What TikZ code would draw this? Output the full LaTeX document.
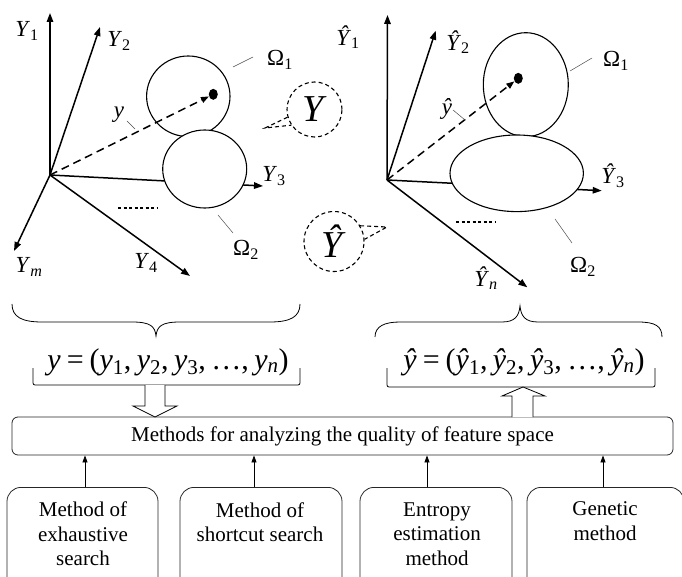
\documentclass[tikz,border=0pt]{standalone}
\usepackage{fontspec}
\setmainfont{Liberation Serif}
\usetikzlibrary{arrows.meta,shapes.geometric}
\newcommand\iv[1]{\textit{#1}}
\newcommand\hv[1]{\textit{\^{#1}}}
\newcommand\cs{,\hspace{0.18em}}
\newcommand\eqs{\hspace{0.2em}=\hspace{0.2em}}
\begin{document}
\begin{tikzpicture}[x=1pt,y=-1pt,
  axis/.style={line width=1.5pt,-{Triangle[length=9pt,width=6.5pt]}},
  vec/.style={line width=1.5pt,dash pattern=on 8pt off 5pt,-{Triangle[length=8pt,width=6pt]}},
  region/.style={draw,ellipse,line width=1.1pt,fill=white,inner sep=0pt},
  dotn/.style={fill,ellipse,inner sep=0pt,minimum width=9pt,minimum height=11pt},
  leader/.style={line width=0.5pt,draw=black!70},
  lbl/.style={font=\fontsize{23}{27}\selectfont,inner sep=0pt},
  bubble/.style={draw,circle,line width=1.1pt,dash pattern=on 4pt off 3pt,inner sep=0pt},
  bubtail/.style={line width=1.1pt,dash pattern=on 4pt off 3pt},
  brace/.style={line width=0.8pt},
  hollow/.style={draw,line width=0.8pt,fill=white},
  box/.style={draw=black!85,line width=0.8pt,rounded corners=14pt,inner sep=0pt},
  btxt/.style={align=center,font=\fontsize{21}{24.5}\selectfont,inner sep=0pt},
  small/.style={line width=0.8pt,-{Triangle[length=7pt,width=5pt]}},
  formula/.style={font=\fontsize{30}{34}\selectfont,inner sep=0pt}
]
\useasboundingbox (0,0) rectangle (682,577);
\clip (0,0) rectangle (682,577);

% ---------------- left feature space ----------------
\coordinate (O) at (50,175);
\coordinate (aY1) at (50,13);
\coordinate (aY2) at (100,27);
\coordinate (aY3) at (263,186);
\coordinate (aYm) at (14,251);
\coordinate (aY4) at (190,276);
\draw[axis] (O) -- (aY1);
\draw[axis] (O) -- (aY2);
\draw[axis] (O) -- (aY3);
\draw[axis] (O) -- (aYm);
\draw[axis] (O) -- (aY4);
\node[region,minimum width=83.4pt,minimum height=80.6pt] (om1) at (188.3,96.3) {};
\node[region,minimum width=84pt,minimum height=78pt] (om2) at (204.7,169) {};
\node[dotn] (d1) at (213.3,94.3) {};
\draw[vec] (O) -- (d1);
\node[lbl] (lY1) at (27,31) {\iv{Y}\textsubscript{1}};
\node[lbl] (lY2) at (119,41) {\iv{Y}\textsubscript{2}};
\node[lbl] (lY3) at (274,176) {\iv{Y}\textsubscript{3}};
\node[lbl] (lYm) at (29,267) {\iv{Y}\textsubscript{\iv{m}}};
\node[lbl] (lY4) at (146,263) {\iv{Y}\textsubscript{4}};
\node[lbl] (ly) at (119,115) {\iv{y}};
\coordinate (ly1) at (127,121); \coordinate (ly2) at (135,129);
\draw[leader] (ly1) -- (ly2);
\node[lbl] (lO1) at (280,60) {Ω\textsubscript{1}};
\node[lbl] (lO2) at (246,250) {Ω\textsubscript{2}};
\coordinate (lo1a) at (233,67); \coordinate (lo1b) at (253,57);
\draw[leader] (lo1a) -- (lo1b);
\coordinate (lo2a) at (218,215); \coordinate (lo2b) at (233,233);
\draw[leader] (lo2a) -- (lo2b);
\coordinate (ld1) at (118,208); \coordinate (ld2) at (157,208);
\draw[line width=1.5pt,dash pattern=on 3pt off 2.5pt] (ld1) -- (ld2);

% ---------------- right feature space ----------------
\coordinate (P) at (387,180);
\coordinate (bY1) at (387.5,15);
\coordinate (bY2) at (435.7,30.7);
\coordinate (bY3) at (601.7,190.7);
\coordinate (bYn) at (527.3,287.3);
\draw[axis] (P) -- (bY1);
\draw[axis] (P) -- (bY2);
\draw[axis] (P) -- (bY3);
\draw[axis] (P) -- (bYn);
\node[region,minimum width=85pt,minimum height=104pt] (rom1) at (525.8,84.7) {};
\node[region,minimum width=133.4pt,minimum height=76.6pt] (rom2) at (516.7,173.3) {};
\node[dotn] (d2) at (518.3,78.3) {};
\draw[vec] (P) -- (d2);
\node[lbl] (rY1) at (348,37) {\hv{Y}\textsubscript{1}};
\node[lbl] (rY2) at (458,42) {\hv{Y}\textsubscript{2}};
\node[lbl] (rY3) at (613,176) {\hv{Y}\textsubscript{3}};
\node[lbl] (rYn) at (486,278) {\hv{Y}\textsubscript{\iv{n}}};
\node[lbl] (ry) at (447,109) {\hv{y}};
\coordinate (ry1) at (453,110); \coordinate (ry2) at (465,120);
\draw[leader] (ry1) -- (ry2);
\node[lbl] (rO1) at (616,61) {Ω\textsubscript{1}};
\node[lbl] (rO2) at (583,267) {Ω\textsubscript{2}};
\coordinate (ro1a) at (570,71); \coordinate (ro1b) at (592,58);
\draw[leader] (ro1a) -- (ro1b);
\coordinate (ro2a) at (555,219); \coordinate (ro2b) at (572,243);
\draw[leader] (ro2a) -- (ro2b);
\coordinate (rd1) at (456,222); \coordinate (rd2) at (495,222);
\draw[line width=1.5pt,dash pattern=on 3pt off 2.5pt] (rd1) -- (rd2);

% ---------------- callout bubbles ----------------
\node[bubble,minimum size=55pt] (bubY) at (314.5,109.5) {\fontsize{38}{40}\selectfont\iv{Y}};
\coordinate (tipY) at (265,128);
\draw[bubtail] (bubY.196) -- (tipY) -- (bubY.214);
\node[bubble,minimum size=60pt] (bubYh) at (334,241.5) {\fontsize{38}{40}\selectfont\hv{Y}};
\coordinate (tipYh) at (387,227);
\draw[bubtail] (bubYh.31) -- (tipYh) -- (bubYh.4);

% ---------------- braces and formulas ----------------
\draw[brace] (12,304) .. controls (12,317) and (22,322) .. (42,322)
  -- (132,322) .. controls (150,322) and (155,326) .. (156,336)
  .. controls (157,326) and (162,322) .. (180,322)
  -- (270,322) .. controls (290,322) and (300,317) .. (300,304);
\draw[brace] (375,337) .. controls (375,326) and (385,322) .. (400,322)
  -- (502,322) .. controls (515,322) and (519,316) .. (520,306)
  .. controls (521,316) and (525,322) .. (538,322)
  -- (638,322) .. controls (655,322) and (662,326) .. (662,337);
\node[formula] (fy) at (168,362)
  {\iv{y}\eqs(\iv{y}\textsubscript{1}\cs\iv{y}\textsubscript{2}\cs\iv{y}\textsubscript{3}\cs\ldots\cs\iv{y}\textsubscript{\iv{n}})};
\node[formula] (fyh) at (524,362)
  {\hv{y}\eqs(\hv{y}\textsubscript{1}\cs\hv{y}\textsubscript{2}\cs\hv{y}\textsubscript{3}\cs\ldots\cs\hv{y}\textsubscript{\iv{n}})};
\draw[brace,rounded corners=2pt] (33,368) -- (33,385) -- (300,385) -- (300,368);
\draw[brace,rounded corners=2pt] (387,368) -- (387,387) -- (655,387) -- (655,368);

% ---------------- methods box ----------------
\node[draw=black!85,line width=0.8pt,rounded corners=6pt,minimum width=661pt,minimum height=38pt,
  font=\fontsize{21}{25}\selectfont,inner sep=0pt] (methods) at (342.5,436)
  {Methods for analyzing the quality of feature space};
\draw[hollow] (145,385) -- (145,406) -- (133,406) -- (155,417) -- (177,406) -- (165,406) -- (165,385);
\draw[hollow] (512,417) -- (512,396) -- (502,396) -- (523,387) -- (545,396) -- (533,396) -- (533,417);

% ---------------- method boxes ----------------
\node[box,minimum width=151pt,minimum height=130pt,anchor=north] (b1) at (82.5,487) {};
\node[box,minimum width=162pt,minimum height=130pt,anchor=north] (b2) at (261,487) {};
\node[box,minimum width=152pt,minimum height=130pt,anchor=north] (b3) at (436,487) {};
\node[box,minimum width=157pt,minimum height=130pt,anchor=north] (b4) at (605.5,487) {};
\node[btxt] (t1) at (83,534) {Method of\\exhaustive\\search};
\node[btxt] (t2) at (260,522) {Method of\\shortcut search};
\node[btxt] (t3) at (437,534) {Entropy\\estimation\\method};
\node[btxt] (t4) at (605,521) {Genetic\\method};
\draw[small] (85,0 |- b1.north) -- (85,0 |- methods.south);
\draw[small] (254,0 |- b2.north) -- (254,0 |- methods.south);
\draw[small] (427,0 |- b3.north) -- (427,0 |- methods.south);
\draw[small] (603,0 |- b4.north) -- (603,0 |- methods.south);
\end{tikzpicture}
\end{document}
